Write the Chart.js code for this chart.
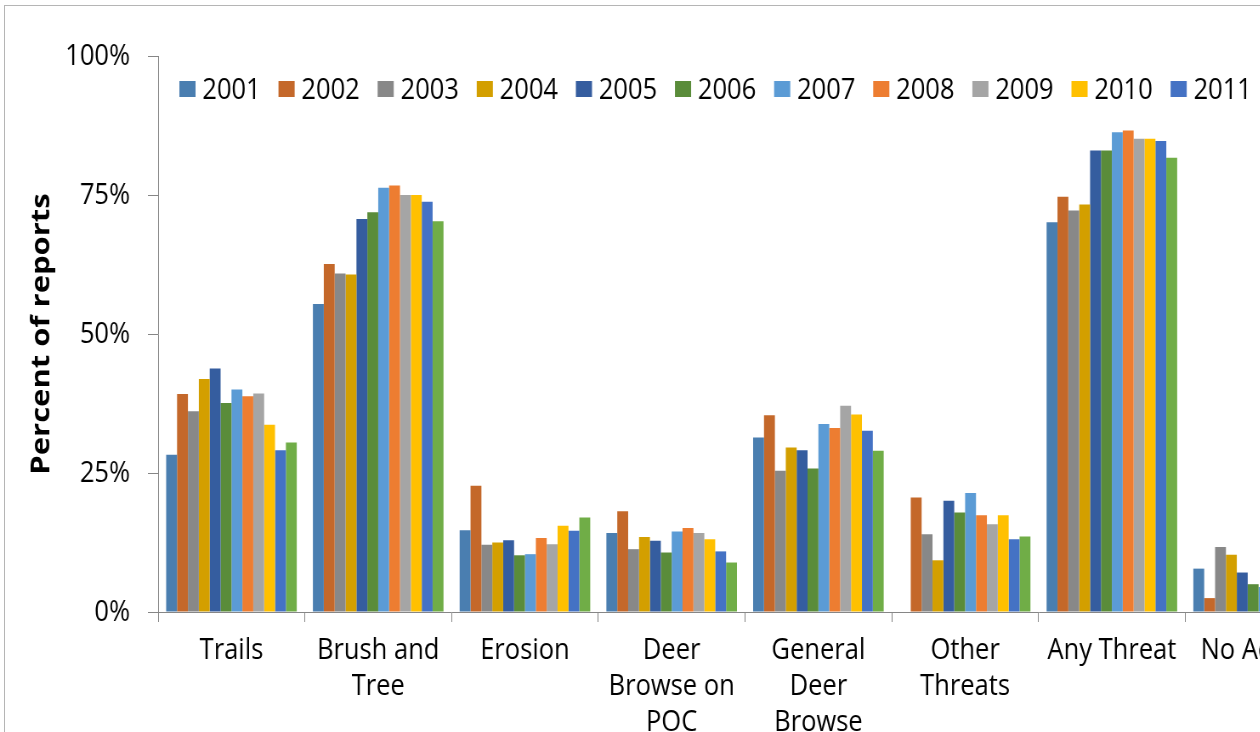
<!DOCTYPE html>
<html>
<head>
<meta charset="utf-8">
<title>Percent of reports by threat</title>
<script src="https://cdn.jsdelivr.net/npm/chart.js@4.4.1/dist/chart.umd.min.js"></script>
<style>
    body { margin: 0; overflow: hidden; background: #fff; width: 1260px; height: 732px; }
    #frame { position: absolute; left: 4px; top: 5px; width: 1400px; height: 800px; border: 1px solid #b5b5b5; }
    /* the source chart is squeezed horizontally, so the canvas is drawn wide and scaled back */
    #chart { position: absolute; left: 0; top: 0; transform: scaleX(0.85); transform-origin: 0 0; }
</style>
</head>
<body>
<div id="frame"></div>
<canvas id="chart" width="1582" height="762"></canvas>
<script>
const categories = [
    'Trails',
    ['Brush and', 'Tree'],
    'Erosion',
    ['Deer', 'Browse on', 'POC'],
    ['General', 'Deer', 'Browse'],
    ['Other', 'Threats'],
    'Any Threat',
    'No Action'
];
const years = ['2001', '2002', '2003', '2004', '2005', '2006', '2007', '2008', '2009', '2010', '2011', '2012'];
const yTicks = [0, 25, 50, 75, 100];

// percent of reports, one array per year, same order as categories
const v2001 = [28.3, 55.4, 14.7, 14.2, 31.4, 0, 70.1, 7.8];
const v2002 = [39.2, 62.6, 22.7, 18.1, 35.4, 20.6, 74.7, 2.5];
const v2003 = [36.1, 60.9, 12.1, 11.3, 25.4, 14.0, 72.2, 11.7];
const v2004 = [41.9, 60.7, 12.5, 13.5, 29.6, 9.3, 73.3, 10.3];
const v2005 = [43.8, 70.7, 12.9, 12.8, 29.1, 20.0, 83.0, 7.1];
const v2006 = [37.6, 71.9, 10.2, 10.7, 25.8, 17.9, 83.0, 5.0];
const v2007 = [40.0, 76.3, 10.4, 14.5, 33.8, 21.4, 86.3, 4.5];
const v2008 = [38.8, 76.7, 13.3, 15.1, 33.1, 17.4, 86.6, 4.0];
const v2009 = [39.3, 75.0, 12.2, 14.2, 37.1, 15.8, 85.1, 5.2];
const v2010 = [33.7, 75.0, 15.5, 13.1, 35.5, 17.4, 85.1, 5.5];
const v2011 = [29.1, 73.8, 14.6, 10.9, 32.6, 13.1, 84.7, 5.8];
const v2012 = [30.5, 70.3, 17.0, 8.9, 29.0, 13.6, 81.7, 6.4];

const seriesValues = [v2001, v2002, v2003, v2004, v2005, v2006, v2007, v2008, v2009, v2010, v2011, v2012];
const colors = ['#4a7eb0', '#c4682a', '#888888', '#d39f00', '#355d9f', '#5a8c3a',
    '#5b9bd5', '#ed7d31', '#a5a5a5', '#ffc000', '#4472c4', '#70ad47'];

const fontFamily = '"Open Sans", sans-serif';
const axisColor = '#868686';

const datasets = [];
for (let i = 0; i < years.length; i++) {
    datasets.push({
        label: years[i],
        data: seriesValues[i],
        backgroundColor: colors[i],
        borderWidth: 0
    });
}

// legend sits inside the plot area, so it is drawn here instead of taking layout space
const insideLegend = {
    id: 'insideLegend',
    afterDraw(chart) {
        const ctx = chart.ctx;
        const boxW = 19;
        const boxH = 16;
        const gap = 8;
        const itemPad = 21;
        let x = 211;
        const y = 81;
        ctx.save();
        ctx.font = '30px ' + fontFamily;
        ctx.textBaseline = 'middle';
        ctx.textAlign = 'left';
        chart.data.datasets.forEach(function (ds) {
            ctx.fillStyle = ds.backgroundColor;
            ctx.fillRect(x, y, boxW, boxH);
            ctx.fillStyle = '#000';
            ctx.fillText(ds.label, x + boxW + gap, y + boxH / 2 + 1);
            x += boxW + gap + ctx.measureText(ds.label).width + itemPad;
        });
        ctx.restore();
    }
};

const chartCTX = document.getElementById('chart').getContext('2d');
const barChart = new Chart(chartCTX, {
    type: 'bar',
    data: { labels: categories, datasets: datasets },
    options: {
        responsive: false,
        animation: false,
        layout: { padding: { top: 56, right: 15, bottom: 0, left: 0 } },
        datasets: { bar: { categoryPercentage: 0.89, barPercentage: 1.0 } },
        plugins: {
            legend: { display: false },
            tooltip: { enabled: false }
        },
        scales: {
            x: {
                grid: { display: true, offset: true, drawOnChartArea: false, color: axisColor, tickLength: 10 },
                border: { color: axisColor },
                ticks: {
                    color: '#000',
                    padding: 10,
                    maxRotation: 0,
                    autoSkip: false,
                    font: { family: fontFamily, size: 30, lineHeight: 1.2 }
                },
                afterFit(scale) { scale.height = 150; }
            },
            y: {
                min: 0,
                max: 100,
                afterBuildTicks(scale) { scale.ticks = yTicks.map(v => ({ value: v })); },
                grid: { display: true, drawOnChartArea: false, color: axisColor, tickLength: 12 },
                border: { color: axisColor },
                ticks: {
                    color: '#000',
                    padding: 21,
                    font: { family: fontFamily, size: 30 },
                    callback: function (value) { return value + '%'; }
                },
                title: {
                    display: true,
                    text: 'Percent of reports',
                    color: '#000',
                    padding: { top: 31, bottom: 0 },
                    font: { family: fontFamily, size: 31, weight: 'bold', lineHeight: 1.2 }
                },
                afterFit(scale) { scale.width = 186; }
            }
        }
    },
    plugins: [insideLegend]
});
</script>
</body>
</html>
